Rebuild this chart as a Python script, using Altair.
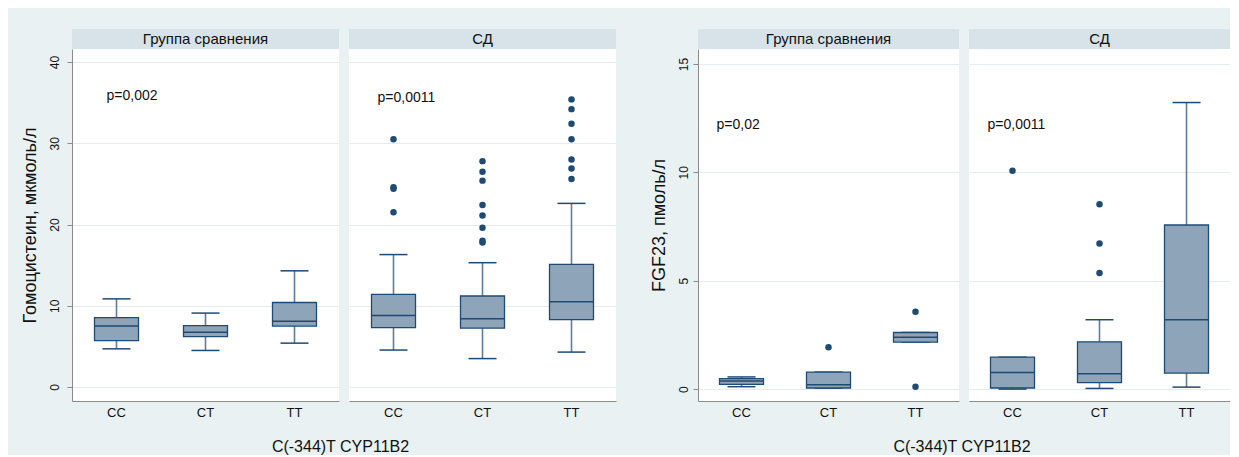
import altair as alt
import pandas as pd

FONT = "Liberation Sans"
TXT = "#111111"
BG = "#E9F1F3"
HDR = "#D7E3E9"
GRID = "#E4ECEF"
AXIS = "#8A8A8A"
NAVY = "#1F4A74"
WHISK = "#5F7E9D"
BOXF = "#8EA4B9"

GENOTYPES = ["CC", "CT", "TT"]
GROUPS = ["Группа сравнения", "СД"]
X_TITLE = "C(-344)T CYP11B2"

# ---- Figure 1: Гомоцистеин ----
HCY_TITLE = "Гомоцистеин, мкмоль/л"
HCY_TICKS = [0, 10, 20, 30, 40]
HCY_DOMAIN = [-1.72, 41.6]
hcy_ctrl_lo = [4.7, 4.5, 5.4]
hcy_ctrl_q1 = [5.7, 6.2, 7.5]
hcy_ctrl_med = [7.5, 6.75, 8.1]
hcy_ctrl_q3 = [8.55, 7.55, 10.4]
hcy_ctrl_hi = [10.85, 9.1, 14.3]
hcy_ctrl_out_g = []
hcy_ctrl_out_v = []
hcy_sd_lo = [4.55, 3.5, 4.3]
hcy_sd_q1 = [7.3, 7.25, 8.3]
hcy_sd_med = [8.8, 8.4, 10.5]
hcy_sd_q3 = [11.4, 11.2, 15.1]
hcy_sd_hi = [16.3, 15.3, 22.6]
hcy_sd_out_g = ["CC"] * 4 + ["CT"] * 8 + ["TT"] * 7
hcy_sd_out_v = [30.5, 24.6, 24.4, 21.5,
                27.8, 26.5, 25.4, 22.4, 21.1, 19.6, 18.0, 17.8,
                35.4, 34.2, 32.4, 30.5, 28.0, 26.9, 25.6]
hcy_p = ["p=0,002", "p=0,0011"]
hcy_p_y = [35.8, 35.6]

# ---- Figure 2: FGF23 ----
FGF_TITLE = "FGF23, пмоль/л"
FGF_TICKS = [0, 5, 10, 15]
FGF_DOMAIN = [-0.55, 15.69]
fgf_ctrl_lo = [0.11, 0.05, 2.17]
fgf_ctrl_q1 = [0.22, 0.05, 2.17]
fgf_ctrl_med = [0.37, 0.2, 2.39]
fgf_ctrl_q3 = [0.48, 0.78, 2.61]
fgf_ctrl_hi = [0.56, 0.78, 2.61]
fgf_ctrl_out_g = ["CT", "TT", "TT"]
fgf_ctrl_out_v = [1.93, 3.57, 0.11]
fgf_sd_lo = [0.0, 0.03, 0.09]
fgf_sd_q1 = [0.05, 0.3, 0.74]
fgf_sd_med = [0.77, 0.71, 3.2]
fgf_sd_q3 = [1.47, 2.18, 7.57]
fgf_sd_hi = [1.47, 3.2, 13.22]
fgf_sd_out_g = ["CC", "CT", "CT", "CT"]
fgf_sd_out_v = [10.07, 8.53, 6.72, 5.36]
fgf_p = ["p=0,02", "p=0,0011"]
fgf_p_y = [12.17, 12.2]

PLOT_H = 352
HDR_H = 20


def panel(lo, q1, med, q3, hi, out_g, out_v, ptxt, py, pdx, group,
          domain, ticks, width, first, ytitle, lab_pad, title_pad):
    box = pd.DataFrame({"g": GENOTYPES, "lo": lo, "q1": q1, "med": med,
                        "q3": q3, "hi": hi})
    x = alt.X("g:N",
              scale=alt.Scale(domain=GENOTYPES, paddingInner=0, paddingOuter=0),
              axis=alt.Axis(title=None, labelAngle=0, ticks=False, domain=True,
                            domainColor=AXIS, domainWidth=1, labelFont=FONT,
                            labelFontSize=13, labelColor=TXT, labelPadding=5,
                            grid=False))
    ys = alt.Scale(domain=domain, nice=False, zero=False)
    if first:
        ya = alt.Axis(values=ticks, title=ytitle, grid=True, gridColor=GRID,
                      labelAngle=-90, labelFontSize=12, labelFont=FONT,
                      labelColor=TXT, labelPadding=lab_pad, tickSize=5,
                      tickColor=AXIS, domainColor=AXIS, titleFont=FONT,
                      titleFontSize=18, titleFontWeight="normal",
                      titleColor=TXT, titlePadding=title_pad, format="d")
    else:
        ya = alt.Axis(values=ticks, title=None, grid=True, gridColor=GRID,
                      labels=False, ticks=False, domain=False)

    def Y(f):
        return alt.Y(f, type="quantitative", scale=ys, axis=ya)

    base = alt.Chart(box)
    layers = [
        base.mark_rule(color=WHISK, strokeWidth=1.6).encode(x=x, y=Y("lo"), y2="q1"),
        base.mark_rule(color=WHISK, strokeWidth=1.6).encode(x=x, y=Y("q3"), y2="hi"),
        base.mark_tick(color=NAVY, size=28, thickness=1.5, opacity=1).encode(x=x, y=Y("lo")),
        base.mark_tick(color=NAVY, size=28, thickness=1.5, opacity=1).encode(x=x, y=Y("hi")),
        base.mark_bar(size=44, fill=BOXF, stroke=NAVY, strokeWidth=1.3).encode(
            x=x, y=Y("q1"), y2="q3"),
        base.mark_tick(color=NAVY, size=44, thickness=1.5, opacity=1).encode(x=x, y=Y("med")),
    ]
    if out_v:
        odf = pd.DataFrame({"g": out_g, "v": out_v})
        layers.append(alt.Chart(odf).mark_circle(size=42, color=NAVY, opacity=1)
                      .encode(x=x, y=Y("v")))
    pdf = pd.DataFrame({"g": ["CC"], "py": [py], "p": [ptxt]})
    layers.append(alt.Chart(pdf).mark_text(align="left", baseline="middle", dx=pdx,
                                           font=FONT, fontSize=14, color=TXT)
                  .encode(x=x, y=Y("py"), text="p:N"))
    hdf = pd.DataFrame({"t": [group]})
    layers.append(alt.Chart(hdf).mark_rect(fill=HDR).encode(
        x=alt.value(0), x2=alt.value(width), y=alt.value(-HDR_H), y2=alt.value(0)))
    layers.append(alt.Chart(hdf).mark_text(font=FONT, fontSize=15, color=TXT,
                                           baseline="middle").encode(
        x=alt.value(width / 2), y=alt.value(-HDR_H / 2), text="t:N"))
    return alt.layer(*layers).properties(width=width, height=PLOT_H)


def xtitle():
    return alt.TitleParams(X_TITLE, orient="bottom", anchor="middle", font=FONT,
                           fontSize=16, fontWeight="normal", color=TXT, offset=20,
                           dx=22)


h1 = panel(hcy_ctrl_lo, hcy_ctrl_q1, hcy_ctrl_med, hcy_ctrl_q3, hcy_ctrl_hi,
           hcy_ctrl_out_g, hcy_ctrl_out_v, hcy_p[0], hcy_p_y[0], -10, GROUPS[0],
           HCY_DOMAIN, HCY_TICKS, 267, True, HCY_TITLE, 6, 9)
h2 = panel(hcy_sd_lo, hcy_sd_q1, hcy_sd_med, hcy_sd_q3, hcy_sd_hi,
           hcy_sd_out_g, hcy_sd_out_v, hcy_p[1], hcy_p_y[1], -16, GROUPS[1],
           HCY_DOMAIN, HCY_TICKS, 267, False, None, 6, 9)
f1 = panel(fgf_ctrl_lo, fgf_ctrl_q1, fgf_ctrl_med, fgf_ctrl_q3, fgf_ctrl_hi,
           fgf_ctrl_out_g, fgf_ctrl_out_v, fgf_p[0], fgf_p_y[0], -25, GROUPS[0],
           FGF_DOMAIN, FGF_TICKS, 261, True, FGF_TITLE, 3, 9)
f2 = panel(fgf_sd_lo, fgf_sd_q1, fgf_sd_med, fgf_sd_q3, fgf_sd_hi,
           fgf_sd_out_g, fgf_sd_out_v, fgf_p[1], fgf_p_y[1], -25, GROUPS[1],
           FGF_DOMAIN, FGF_TICKS, 261, False, None, 3, 9)

left = alt.hconcat(h1, h2, spacing=10).properties(title=xtitle())
right = alt.hconcat(f1, f2, spacing=10).properties(title=xtitle())

chart = (
    alt.hconcat(left, right, spacing=33)
    .properties(padding={"left": 13, "top": 21, "right": 0, "bottom": 0})
    .configure(background=BG, font=FONT)
    .configure_view(stroke=None, fill="white")
)

chart.save("out.html", embed_options={"renderer": "svg", "actions": False})
